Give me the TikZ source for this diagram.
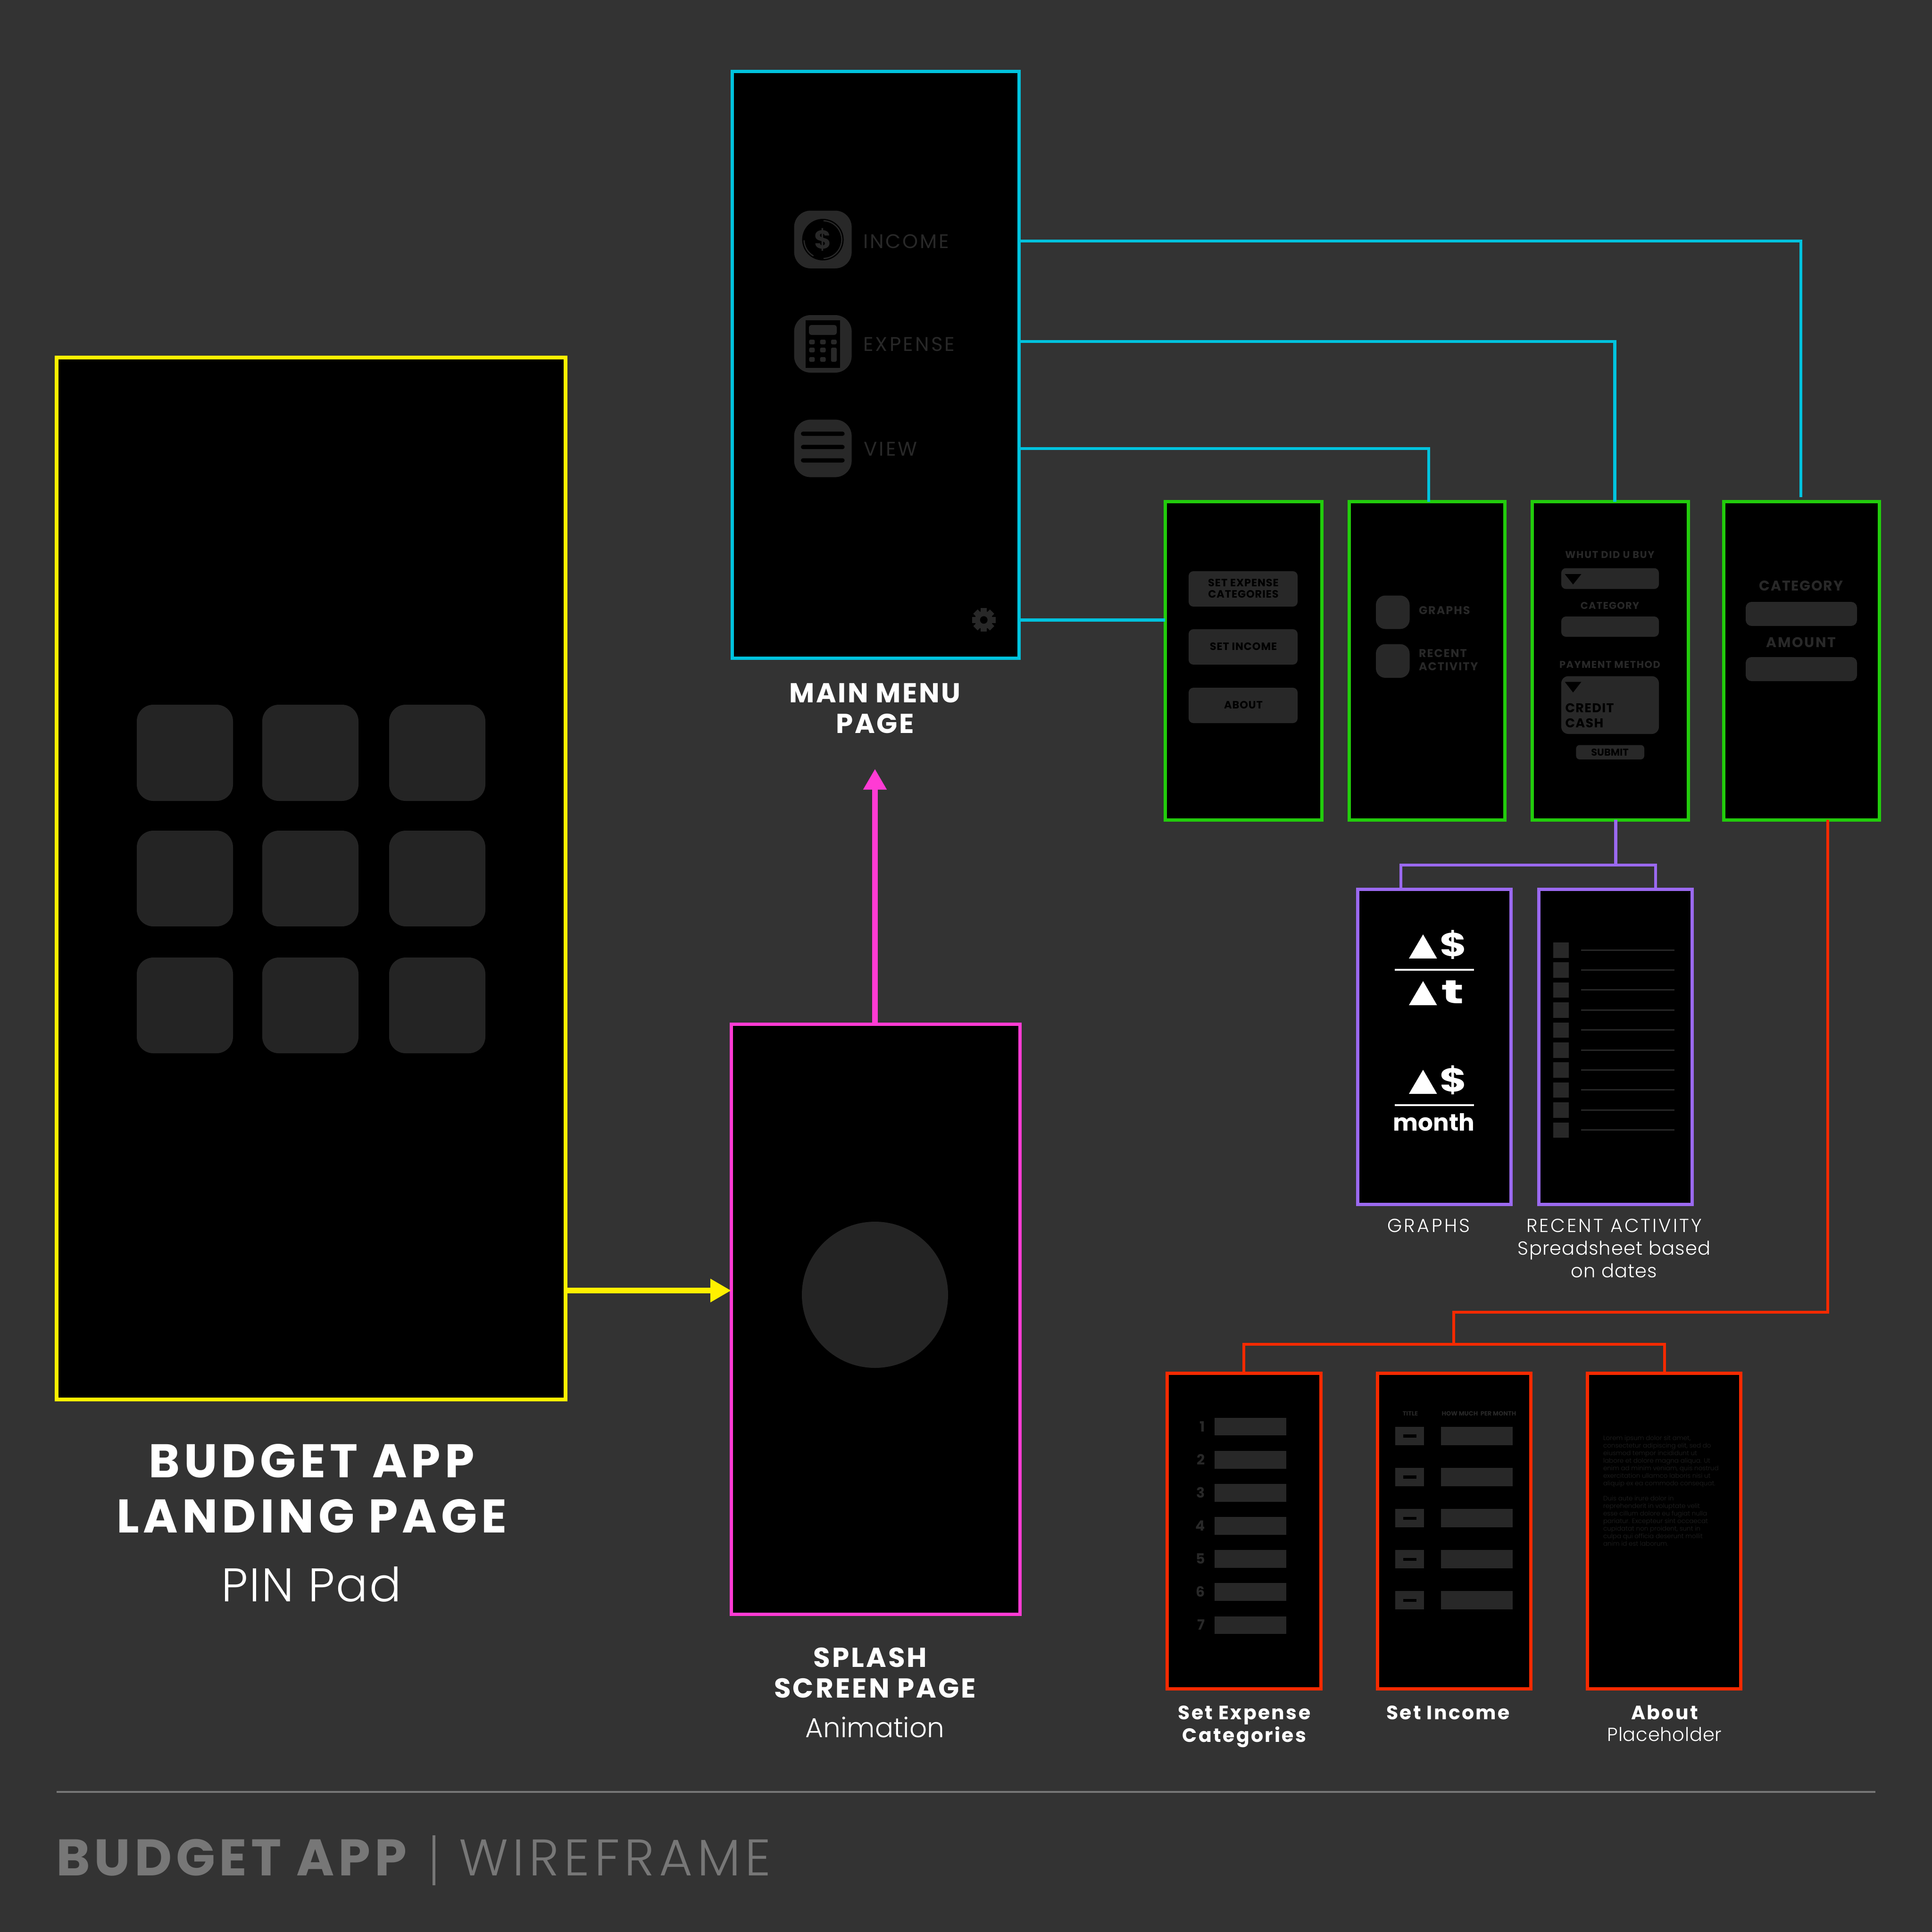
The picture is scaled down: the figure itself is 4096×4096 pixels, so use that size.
\documentclass[tikz,border=0pt]{standalone}
\usepackage{fontspec}
\usepackage{graphicx}
\usetikzlibrary{arrows.meta}
\setmainfont{Poppins}
\newfontfamily\thinface{Poppins Light}
\definecolor{pagegray}{HTML}{333333}
\definecolor{padgray}{HTML}{282828}
\definecolor{keygray}{HTML}{242424}
\definecolor{footgray}{HTML}{777777}
\definecolor{loremgray}{HTML}{212121}
\definecolor{padyellow}{HTML}{FFF000}
\definecolor{splashpink}{HTML}{FF3BD4}
\definecolor{menucyan}{HTML}{00C3DE}
\definecolor{formgreen}{HTML}{22CC0C}
\definecolor{viewpurple}{HTML}{9B69F0}
\definecolor{setred}{HTML}{F52A00}
\newcommand{\sz}[1]{\fontsize{#1}{#1}\selectfont}
\newcommand{\ls}[1]{\addfontfeature{LetterSpace=#1}}
\tikzset{
  screen/.style={draw,fill=black,line width=1.4pt,inner sep=0pt,outer sep=0pt},
  screensize/.style 2 args={minimum width=#1*0.2pt,minimum height=#2*0.2pt},
  wire/.style={line width=1.3pt},
  bigarrow/.style={line width=2.4pt,-{Triangle[length=8.8pt,width=9.4pt]}},
  pad/.style={fill=padgray,rounded corners=#1},
  key/.style={fill=keygray,rounded corners=7pt},
  label/.style={inner sep=0pt,anchor=base,text=white},
  faint/.style={inner sep=0pt,anchor=base,text=padgray},
  dark/.style={inner sep=0pt,anchor=base,text=black,font=\bfseries\sz{4.5}\ls{4}},
}
\begin{document}
\begin{tikzpicture}[x=0.2pt,y=-0.2pt]
\useasboundingbox (0,0) rectangle (4096,4096);
\fill[pagegray] (0,0) rectangle (4096,4096);

%Shape: Screens
\node (landing) [screen,draw=padyellow,line width=1.6pt,screensize={1079}{2209}] at (659.5,1862.5) {};
\node (mainmenu) [screen,draw=menucyan,screensize={608}{1244}] at (1856,773) {};
\node (splash) [screen,draw=splashpink,screensize={612}{1251}] at (1856,2796.5) {};
\node (setup) [screen,draw=formgreen,screensize={332}{674.5}] at (2636,1400.75) {};
\node (viewer) [screen,draw=formgreen,screensize={330}{674.5}] at (3025,1400.75) {};
\node (expense) [screen,draw=formgreen,screensize={331}{674.5}] at (3413.5,1400.75) {};
\node (income) [screen,draw=formgreen,screensize={330}{674.5}] at (3819,1400.75) {};
\node (graphs) [screen,draw=viewpurple,screensize={324.5}{668}] at (3041,2219) {};
\node (recent) [screen,draw=viewpurple,screensize={325.5}{668}] at (3425,2219) {};
\node (setcats) [screen,draw=setred,screensize={325.5}{669}] at (2637.25,3246) {};
\node (setincome) [screen,draw=setred,screensize={325}{669}] at (3083,3246) {};
\node (about) [screen,draw=setred,screensize={325}{669}] at (3528,3246) {};

% Wire Points
\coordinate (gear) at (2085.7,1314.3);
\coordinate (incomerow) at (2160,511);
\coordinate (expenserow) at (2160,724);
\coordinate (viewrow) at (2160,951);
\coordinate (incomestem) at (3818,1054);
\coordinate (expensestem) at (3423.5,1063.5);
\coordinate (viewstem) at (3029,1063.5);
\coordinate (purpleout) at (3425.6,1738);
\coordinate (purplejoin) at (3425.6,1834);
\coordinate (graphstem) at (2970,1885);
\coordinate (recentstem) at (3510,1885);
\coordinate (redout) at (3875,1738);
\coordinate (redturn) at (3082,2782);
\coordinate (redjoin) at (3082,2850);
\coordinate (catstem) at (2637,2911.5);
\coordinate (aboutstem) at (3529,2911.5);
\coordinate (yellowrow) at (1199,2736);
\coordinate (menutip) at (1855,1630);

%Straight Lines
\draw[bigarrow,padyellow] (landing.east |- yellowrow) -- (splash.west |- yellowrow);
\draw[bigarrow,splashpink] (splash.north -| menutip) -- (menutip);
\draw[wire,menucyan] (incomerow) -| (incomestem);
\draw[wire,menucyan] (expenserow) -| (expensestem);
\draw[wire,menucyan] (viewrow) -| (viewstem);
\draw[wire,menucyan] (mainmenu.east |- gear) -- (setup.west |- gear);
\draw[wire,viewpurple] (purpleout) -- (purplejoin);
\draw[wire,viewpurple] (graphstem) |- (purplejoin) -| (recentstem);
\draw[wire,setred] (redout) |- (redturn) -- (redjoin);
\draw[wire,setred] (catstem) |- (redjoin) -| (aboutstem);

%Shape: PIN Keys
\fill[key] (290,1494) rectangle (494,1698);
\fill[key] (556,1494) rectangle (760,1698);
\fill[key] (825,1494) rectangle (1029,1698);
\fill[key] (290,1761) rectangle (494,1964);
\fill[key] (556,1761) rectangle (760,1964);
\fill[key] (825,1761) rectangle (1029,1964);
\fill[key] (290,2030) rectangle (494,2233);
\fill[key] (556,2030) rectangle (760,2233);
\fill[key] (825,2030) rectangle (1029,2233);

%Shape: Splash Circle
\fill[keygray] (1855,2745) circle (155);

%Shape: Menu Icons
\fill[pad=7pt] (1683.6,446.5) rectangle (1805.6,569);
\fill[black] (1744.6,508) circle (44);
\draw[padgray,line width=0.5pt] (1744.6,508) ++(-88:40) arc (-88:88:40);
\draw[padgray,line width=0.5pt] (1744.6,508) ++(178:40) arc (178:120:40);
\node (coinsign) [inner sep=0pt,text=padgray,font=\bfseries\sz{11}] at (1744.6,508) {\$};
\fill[pad=7pt] (1683.6,668) rectangle (1805.6,790);
\fill[black] (1707.7,679) rectangle (1781,780);
\fill[pad=1pt] (1715,689) rectangle (1774,710);
\fill[pad=0.6pt] (1715.4,720) rectangle (1727.4,730);
\fill[pad=0.6pt] (1738.6,720) rectangle (1750.6,730);
\fill[pad=0.6pt] (1761.8,720) rectangle (1773.8,730);
\fill[pad=0.6pt] (1715.4,737) rectangle (1727.4,747);
\fill[pad=0.6pt] (1738.6,737) rectangle (1750.6,747);
\fill[pad=0.6pt] (1761.8,737) rectangle (1773.8,767);
\fill[pad=0.6pt] (1715.4,757) rectangle (1727.4,767);
\fill[pad=0.6pt] (1738.6,757) rectangle (1750.6,767);
\fill[pad=7pt] (1683.6,889.6) rectangle (1805.6,1011.6);
\fill[black,rounded corners=0.9pt] (1698,915) rectangle (1790.7,924);
\fill[black,rounded corners=0.9pt] (1698,943.2) rectangle (1790.7,952.2);
\fill[black,rounded corners=0.9pt] (1698,971.5) rectangle (1790.7,980.5);

%Shape: Gear
\fill[padgray,rotate around={0:(gear)}] (2079.2,1289.3) rectangle (2092.2,1339.3);
\fill[padgray,rotate around={45:(gear)}] (2079.2,1289.3) rectangle (2092.2,1339.3);
\fill[padgray,rotate around={90:(gear)}] (2079.2,1289.3) rectangle (2092.2,1339.3);
\fill[padgray,rotate around={135:(gear)}] (2079.2,1289.3) rectangle (2092.2,1339.3);
\fill[padgray] (gear) circle (19);
\fill[black] (gear) circle (8);

% Text Node
\node (incometext) [faint,anchor=base west,font=\sz{8.4}\ls{9}] at (1829,526.6) {INCOME};
\node (expensetext) [faint,anchor=base west,font=\sz{8.4}\ls{10}] at (1829,744) {EXPENSE};
\node (viewtext) [faint,anchor=base west,font=\sz{8.4}\ls{10}] at (1830,966) {VIEW};

%Shape: Setup Buttons
\fill[pad=2pt] (2520,1211) rectangle (2751,1286);
\fill[pad=2pt] (2520,1334) rectangle (2751,1409);
\fill[pad=2pt] (2520,1458) rectangle (2751,1533);
\node (btnexpense) [dark] at (2636,1243) {SET EXPENSE};
\node (btncats) [dark] at (2636,1267) {CATEGORIES};
\node (btnincome) [dark] at (2636,1378) {SET INCOME};
\node (btnabout) [dark] at (2636,1502) {ABOUT};

%Shape: View Buttons
\fill[pad=4pt] (2917,1262.5) rectangle (2988.5,1333.5);
\fill[pad=4pt] (2917,1365.6) rectangle (2988.5,1437);
\node (viewgraphs) [faint,anchor=base west,font=\bfseries\sz{4.8}\ls{8}] at (3007,1302) {GRAPHS};
\node (viewrecent) [faint,anchor=base west,font=\bfseries\sz{4.8}\ls{8}] at (3007,1393) {RECENT};
\node (viewactive) [faint,anchor=base west,font=\bfseries\sz{4.8}\ls{8}] at (3007,1421) {ACTIVITY};

%Shape: Expense Form
\node (whut) [faint,font=\bfseries\sz{4.2}\ls{8}] at (3413,1183.5) {WHUT DID U BUY};
\fill[pad=2pt] (3310,1204.5) rectangle (3517,1248.7);
\fill[black] (3317.5,1217) -- (3352.6,1217) -- (3335,1239) -- cycle;
\node (formcat) [faint,font=\bfseries\sz{4.2}\ls{6}] at (3413,1291.5) {CATEGORY};
\fill[pad=2pt] (3310,1307) rectangle (3517,1350);
\node (payment) [faint,font=\bfseries\sz{4.2}\ls{7}] at (3413,1416.5) {PAYMENT METHOD};
\fill[pad=3pt] (3310,1433.5) rectangle (3517,1556);
\fill[black] (3317.5,1445.5) -- (3352.6,1445.5) -- (3335,1468) -- cycle;
\node (credit) [inner sep=0pt,anchor=base west,text=black,font=\bfseries\sz{5.4}\ls{5}] at (3317.5,1510) {CREDIT};
\node (cash) [inner sep=0pt,anchor=base west,text=black,font=\bfseries\sz{5.4}\ls{5}] at (3317.5,1542) {CASH};
\fill[pad=1.5pt] (3341.4,1579.5) rectangle (3486,1610);
\node (submit) [dark,font=\bfseries\sz{4.2}] at (3413,1602) {SUBMIT};

%Shape: Income Form
\node (inccat) [faint,font=\bfseries\sz{6}\ls{6}] at (3818.5,1252) {CATEGORY};
\fill[pad=2.5pt] (3701,1276) rectangle (3937,1327);
\node (incamount) [faint,font=\bfseries\sz{6}\ls{9}] at (3818.5,1372) {AMOUNT};
\fill[pad=2.5pt] (3701,1393) rectangle (3937,1444);

%Shape: Graph Formulas
\fill[white] (2987,2032) -- (3046.6,2032) -- (3017,1981) -- cycle;
\node (dollarone) [inner sep=0pt,text=white,font=\bfseries\sz{14}] at (3081,2003) {\scalebox{1.25}[1]{\$}};
\draw[white,line width=0.8pt] (2957,2056) -- (3125,2056);
\fill[white] (2987,2131) -- (3046.6,2131) -- (3017,2080) -- cycle;
\node (timet) [label,font=\bfseries\sz{14}] at (3080,2127) {\scalebox{1.7}[1]{t}};
\fill[white] (2987,2319) -- (3046.6,2319) -- (3017,2268) -- cycle;
\node (dollartwo) [inner sep=0pt,text=white,font=\bfseries\sz{14}] at (3081,2290) {\scalebox{1.25}[1]{\$}};
\draw[white,line width=0.8pt] (2957,2343) -- (3125,2343);
\node (month) [label,font=\bfseries\sz{10}] at (3040,2397) {month};

%Shape: Recent Rows
\fill[padgray] (3292.6,1998) rectangle (3326,2030.5);
\fill[padgray] (3292.6,2040.4) rectangle (3326,2072.9);
\fill[padgray] (3292.6,2082.8) rectangle (3326,2115.3);
\fill[padgray] (3292.6,2125.2) rectangle (3326,2157.7);
\fill[padgray] (3292.6,2167.6) rectangle (3326,2200.1);
\fill[padgray] (3292.6,2210) rectangle (3326,2242.5);
\fill[padgray] (3292.6,2252.4) rectangle (3326,2284.9);
\fill[padgray] (3292.6,2294.8) rectangle (3326,2327.3);
\fill[padgray] (3292.6,2337.2) rectangle (3326,2369.7);
\fill[padgray] (3292.6,2379.6) rectangle (3326,2412.1);
\draw[padgray,line width=0.6pt] (3352,2014) -- (3550,2014);
\draw[padgray,line width=0.6pt] (3352,2056.4) -- (3550,2056.4);
\draw[padgray,line width=0.6pt] (3352,2098.8) -- (3550,2098.8);
\draw[padgray,line width=0.6pt] (3352,2141.2) -- (3550,2141.2);
\draw[padgray,line width=0.6pt] (3352,2183.6) -- (3550,2183.6);
\draw[padgray,line width=0.6pt] (3352,2226) -- (3550,2226);
\draw[padgray,line width=0.6pt] (3352,2268.4) -- (3550,2268.4);
\draw[padgray,line width=0.6pt] (3352,2310.8) -- (3550,2310.8);
\draw[padgray,line width=0.6pt] (3352,2353.2) -- (3550,2353.2);
\draw[padgray,line width=0.6pt] (3352,2395.6) -- (3550,2395.6);

%Shape: Category Rows
\node (numone) [faint,anchor=base east,font=\bfseries\sz{6}] at (2556,3035) {1};
\node (numtwo) [faint,anchor=base east,font=\bfseries\sz{6}] at (2556,3105.2) {2};
\node (numthree) [faint,anchor=base east,font=\bfseries\sz{6}] at (2556,3175.3) {3};
\node (numfour) [faint,anchor=base east,font=\bfseries\sz{6}] at (2556,3245.5) {4};
\node (numfive) [faint,anchor=base east,font=\bfseries\sz{6}] at (2556,3315.6) {5};
\node (numsix) [faint,anchor=base east,font=\bfseries\sz{6}] at (2556,3385.8) {6};
\node (numseven) [faint,anchor=base east,font=\bfseries\sz{6}] at (2556,3455.9) {7};
\fill[padgray] (2575,3005.6) rectangle (2727,3043.4);
\fill[padgray] (2575,3075.8) rectangle (2727,3113.6);
\fill[padgray] (2575,3145.9) rectangle (2727,3183.7);
\fill[padgray] (2575,3216.1) rectangle (2727,3253.9);
\fill[padgray] (2575,3286.2) rectangle (2727,3324);
\fill[padgray] (2575,3356.4) rectangle (2727,3394.2);
\fill[padgray] (2575,3426.5) rectangle (2727,3464.3);

%Shape: Income Rows
\node (coltitle) [faint,font=\bfseries\sz{2.6}] at (2990,3001) {TITLE};
\node (colmuch) [faint,anchor=base west,font=\bfseries\sz{2.6}] at (3055.6,3001) {HOW MUCH\ \ PER MONTH};
\fill[padgray] (2958,3025) rectangle (3019,3064);
\fill[padgray] (2958,3112.1) rectangle (3019,3151.1);
\fill[padgray] (2958,3199.2) rectangle (3019,3238.2);
\fill[padgray] (2958,3286.3) rectangle (3019,3325.3);
\fill[padgray] (2958,3373.4) rectangle (3019,3412.4);
\fill[black] (2974.5,3041.3) rectangle (3002.5,3048);
\fill[black] (2974.5,3128.4) rectangle (3002.5,3135.1);
\fill[black] (2974.5,3215.5) rectangle (3002.5,3222.2);
\fill[black] (2974.5,3302.6) rectangle (3002.5,3309.3);
\fill[black] (2974.5,3389.7) rectangle (3002.5,3396.4);
\fill[padgray] (3055,3025) rectangle (3207,3064);
\fill[padgray] (3055,3112.1) rectangle (3207,3151.1);
\fill[padgray] (3055,3199.2) rectangle (3207,3238.2);
\fill[padgray] (3055,3286.3) rectangle (3207,3325.3);
\fill[padgray] (3055,3373.4) rectangle (3207,3412.4);

% Text Node
\node (lorem) [inner sep=0pt,anchor=north west,align=left,text=loremgray,font=\thinface\fontsize{2.7}{3.2}\selectfont] at (3398,3042) {Lorem ipsum dolor sit amet,\\consectetur adipiscing elit, sed do\\eiusmod tempor incididunt ut\\labore et dolore magna aliqua. Ut\\enim ad minim veniam, quis nostrud\\exercitation ullamco laboris nisi ut\\aliquip ex ea commodo consequat.\\[3.2pt]Duis aute irure dolor in\\reprehenderit in voluptate velit\\esse cillum dolore eu fugiat nulla\\pariatur. Excepteur sint occaecat\\cupidatat non proident, sunt in\\culpa qui officia deserunt mollit\\anim id est laborum.};

% Text Node
\node (landingone) [label,font=\bfseries\sz{20}\ls{9}] at (660.6,3132) {BUDGET APP};
\node (landingtwo) [label,font=\bfseries\sz{20}\ls{9}] at (661,3249) {LANDING PAGE};
\node (landingsub) [label,font=\thinface\sz{20}\ls{3}] at (660,3395) {PIN Pad};
\node (menuone) [label,font=\bfseries\sz{11.6}\ls{6}] at (1855,1489) {MAIN MENU};
\node (menutwo) [label,font=\bfseries\sz{11.6}\ls{6}] at (1855,1554) {PAGE};
\node (splashone) [label,font=\bfseries\sz{11.6}\ls{7}] at (1845,3534) {SPLASH};
\node (splashtwo) [label,font=\bfseries\sz{11.6}\ls{7}] at (1855,3599) {SCREEN PAGE};
\node (splashsub) [label,font=\thinface\sz{11.6}] at (1855,3683) {Animation};
\node (graphscap) [label,font=\thinface\sz{8}\ls{11}] at (3029,2612) {GRAPHS};
\node (recentcap) [label,font=\thinface\sz{8}\ls{10}] at (3422,2612) {RECENT ACTIVITY};
\node (recentsub) [label,font=\thinface\sz{8}\ls{3}] at (3422,2660) {Spreadsheet based};
\node (recentend) [label,font=\thinface\sz{8}\ls{3}] at (3422,2708) {on dates};
\node (catscapa) [label,font=\bfseries\sz{8.2}\ls{8}] at (2638,3645) {Set Expense};
\node (catscapb) [label,font=\bfseries\sz{8.2}\ls{8}] at (2638,3693) {Categories};
\node (incomecap) [label,font=\bfseries\sz{8.2}\ls{8}] at (3070,3645) {Set Income};
\node (aboutcap) [label,font=\bfseries\sz{8.2}\ls{8}] at (3529,3645) {About};
\node (aboutsub) [label,font=\thinface\sz{8}\ls{2}] at (3529,3691) {Placeholder};

%Straight Lines
\draw[footgray,line width=0.8pt] (120,3799) -- (3976,3799);
\draw[footgray,line width=1.2pt] (920,3891) -- (920,3997);

% Text Node
\node (footbudget) [inner sep=0pt,anchor=base west,text=footgray,font=\bfseries\sz{21.8}\ls{8}] at (118,3976) {BUDGET APP};
\node (footwire) [inner sep=0pt,anchor=base west,text=footgray,font=\thinface\sz{21.8}\ls{9}] at (972,3976) {WIREFRAME};
\end{tikzpicture}
\end{document}
